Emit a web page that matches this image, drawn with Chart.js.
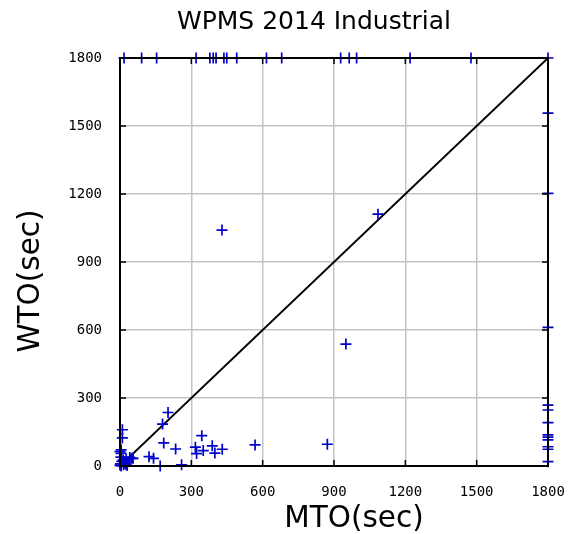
<!DOCTYPE html>
<html>
<head>
<meta charset="utf-8">
<script src="https://cdn.jsdelivr.net/npm/chart.js@4/dist/chart.umd.min.js"></script>
<style>
  html, body { margin: 0; padding: 0; background: #fff; }
  #wrap { width: 568px; height: 534px; }
</style>
</head>
<body>
<div id="wrap"><canvas id="chart" width="568" height="534"></canvas></div>
<script>
const TITLE   = 'WPMS 2014 Industrial'
const X_LABEL = 'MTO(sec)'
const Y_LABEL = 'WTO(sec)'
const TICKS   = [0, 300, 600, 900, 1200, 1500, 1800]

// instance times (seconds), 1800 = timeout
const mtoTimes = [
  17, 91, 154, 320, 378, 392, 404, 437, 449, 491, 616, 680, 928, 964, 995, 1220, 1476, 1800,
  1800, 1800, 1800, 1800, 1800, 1800, 1800, 1800, 1800, 1800, 1800, 1800,
  429, 1085, 950, 872, 568,
  202, 179, 184, 234, 122, 141, 169, 259,
  344, 317, 322, 350, 388, 399, 430,
  10, 10, 5, 5, 4, 0, 13, 26, 41, 55, 0, 5, 20, 34, 2, 8, 15, 25, 30, 49
]
const wtoTimes = [
  1800, 1800, 1800, 1800, 1800, 1800, 1800, 1800, 1800, 1800, 1800, 1800, 1800, 1800, 1800, 1800, 1800, 1800,
  1557, 1203, 612, 269, 247, 191, 137, 127, 115, 85, 74, 19,
  1041, 1111, 538, 96, 93,
  236, 185, 102, 75, 41, 34, 0, 5,
  134, 83, 55, 68, 89, 57, 74,
  160, 124, 71, 56, 39, 63, 26, 29, 38, 34, 4, 0, 12, 19, 10, 20, 5, 8, 2, 34
]

const points = mtoTimes.map((x, i) => ({ x, y: wtoTimes[i] }))

// gnuplot puts the titles a bit off-centre; nudge the boxes the titles are centred in
const nudgeTitles = {
  id: 'nudgeTitles',
  afterLayout(chart) {
    if (chart.titleBlock) { chart.titleBlock.left += 80 }
    chart.scales.x.left += 40
    chart.scales.y.top  += 38
  }
}

const frame = {
  id: 'frame',
  afterDatasetsDraw(chart) {
    const { ctx, chartArea: a, scales } = chart
    ctx.save()
    ctx.strokeStyle = '#000'
    ctx.lineWidth = 1.5
    ctx.beginPath()
    TICKS.forEach(v => {
      const px = scales.x.getPixelForValue(v)
      const py = scales.y.getPixelForValue(v)
      ctx.moveTo(px, a.bottom); ctx.lineTo(px, a.bottom - 6)
      ctx.moveTo(px, a.top);    ctx.lineTo(px, a.top + 6)
      ctx.moveTo(a.left, py);   ctx.lineTo(a.left + 6, py)
      ctx.moveTo(a.right, py);  ctx.lineTo(a.right - 6, py)
    })
    ctx.stroke()
    ctx.lineWidth = 2
    ctx.strokeRect(a.left, a.top, a.right - a.left, a.bottom - a.top)
    ctx.restore()
  }
}

new Chart(document.getElementById('chart'), {
  type: 'scatter',
  data: {
    datasets: [
      {
        type: 'line',
        data: [{ x: 0, y: 0 }, { x: 1800, y: 1800 }],
        borderColor: '#000',
        borderWidth: 1.8,
        pointRadius: 0,
        clip: false,
        order: 2
      },
      {
        data: points,
        pointStyle: 'cross',
        pointRadius: 5.5,
        borderColor: '#0000cc',
        backgroundColor: '#0000cc',
        borderWidth: 1.7,
        clip: false,
        order: 1
      }
    ]
  },
  plugins: [nudgeTitles, frame],
  options: {
    responsive: false,
    animation: false,
    layout: { padding: { left: 0, right: 20, top: 0, bottom: 0 } },
    plugins: {
      legend: { display: false },
      tooltip: { enabled: false },
      title: {
        display: true,
        text: TITLE,
        color: '#000',
        font: { family: 'DejaVu Sans', size: 25, weight: 'normal', lineHeight: 1.2 },
        padding: { top: 7, bottom: 21 }
      }
    },
    scales: {
      x: {
        type: 'linear',
        min: 0, max: 1800,
        afterBuildTicks: s => { s.ticks = TICKS.map(value => ({ value })) },
        afterFit: s => { s.height = 68; s.paddingLeft = 0; s.paddingRight = 0 },
        grid: { color: '#c4c4c4', lineWidth: 1.5, drawTicks: false },
        border: { display: false },
        ticks: { color: '#000', padding: 18, maxRotation: 0, callback: v => String(v),
                 font: { family: 'DejaVu Sans Mono', size: 14 } },
        title: { display: true, text: X_LABEL, color: '#000', padding: { top: 0, bottom: -3 },
                 font: { family: 'DejaVu Sans', size: 29.5, weight: 'normal' } }
      },
      y: {
        type: 'linear',
        min: 0, max: 1800,
        afterBuildTicks: s => { s.ticks = TICKS.map(value => ({ value })) },
        afterFit: s => { s.width = 120; s.paddingTop = 0; s.paddingBottom = 0 },
        grid: { color: '#c4c4c4', lineWidth: 1.5, drawTicks: false },
        border: { display: false },
        ticks: { color: '#000', padding: 18, callback: v => String(v),
                 font: { family: 'DejaVu Sans Mono', size: 14 } },
        title: { display: true, text: Y_LABEL, color: '#000', padding: { top: 14, bottom: 0 },
                 font: { family: 'DejaVu Sans', size: 29.5, weight: 'normal' } }
      }
    }
  }
})
</script>
</body>
</html>
